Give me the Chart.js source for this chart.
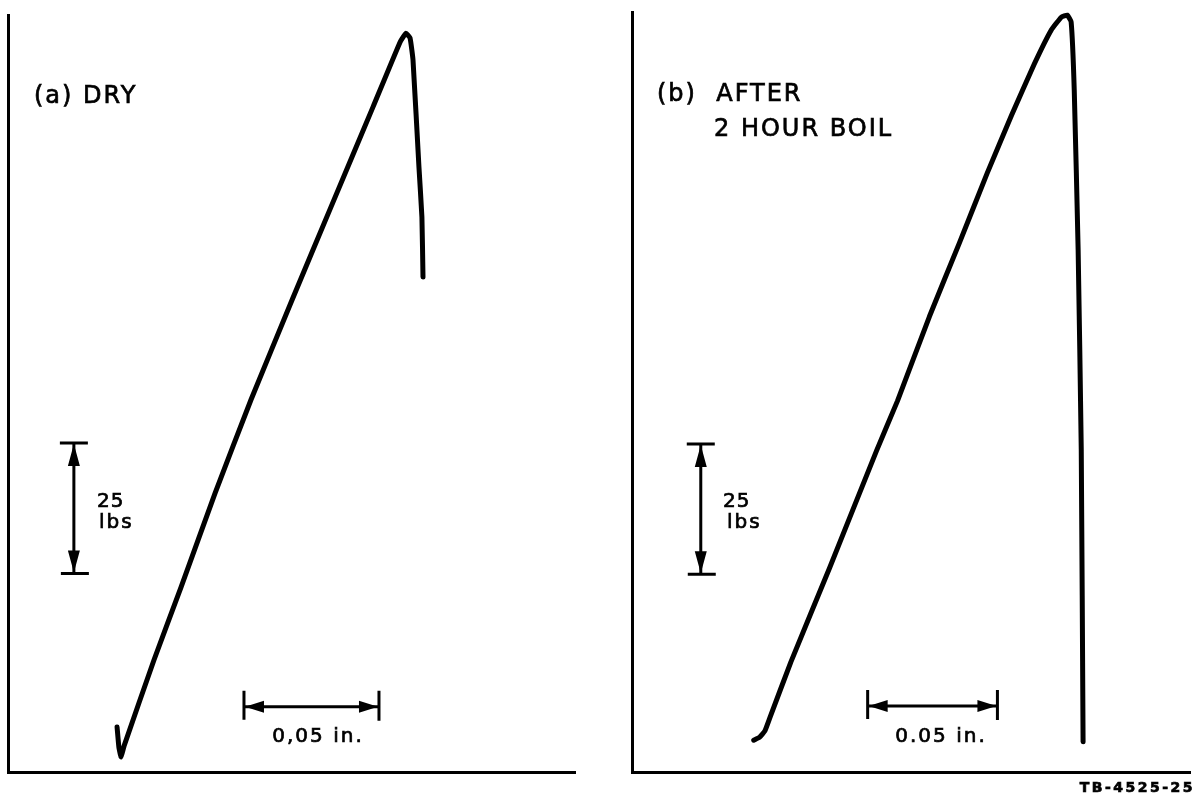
<!DOCTYPE html>
<html>
<head>
<meta charset="utf-8">
<script src="https://cdn.jsdelivr.net/npm/chart.js@4"></script>
<style>
  html, body { margin: 0; padding: 0; background: #fff; }
  #wrap { position: relative; width: 1200px; height: 801px; }
  canvas { position: absolute; top: 0; }
  #dry { left: 0; }
  #boil { left: 600px; }
</style>
</head>
<body>
<div id="wrap">
  <canvas id="dry" width="600" height="801"></canvas>
  <canvas id="boil" width="600" height="801"></canvas>
</div>
<script>
// load-deflection traces, x = deflection (in.), y = load (lbs)
const dryX  = [0.0404, 0.0411, 0.0419, 0.0430, 0.0541, 0.0641, 0.0767, 0.0900, 0.1052, 0.1196, 0.1352, 0.1452, 0.1474, 0.1489, 0.1500, 0.1522, 0.1533, 0.1537];
const dryY  = [8.6, 4.6, 2.9, 5.0, 21.5, 35.4, 53.4, 71.3, 90.4, 108.2, 127.4, 139.8, 141.5, 140.6, 136.4, 115.9, 106.3, 94.8];

const boilX = [0.0469, 0.0492, 0.0512, 0.0531, 0.0612, 0.0762, 0.0942, 0.1023, 0.1146, 0.1262, 0.1369, 0.1462, 0.1550, 0.1615, 0.1654, 0.1677, 0.1692, 0.1704, 0.1719, 0.1731, 0.1738];
const boilY = [6.1, 6.7, 7.9, 10.4, 21.1, 39.3, 61.7, 71.3, 87.5, 101.7, 115.1, 126.1, 136.0, 142.5, 145.0, 145.4, 144.1, 131.0, 100.3, 61.9, 5.8];

// scale bars
const loadBar = 25;     // lbs
const deflBar = 0.05;   // in.

const toPoints = (xs, ys) => xs.map((x, i) => ({ x: x, y: ys[i] }));

// draws the scale bars and the lettering
const scaleBars = {
  id: 'scaleBars',
  afterDatasetsDraw(chart, args, o) {
    const ctx = chart.ctx;
    const sx = chart.scales.x, sy = chart.scales.y;
    ctx.save();
    ctx.strokeStyle = '#000';
    ctx.fillStyle = '#000';
    ctx.lineWidth = 3;
    ctx.lineCap = 'butt';

    // vertical (load) bar
    const vx = sx.getPixelForValue(o.load.x);
    const vTop = sy.getPixelForValue(o.load.y + loadBar);
    const vBot = sy.getPixelForValue(o.load.y);
    ctx.beginPath();
    ctx.moveTo(vx, vTop); ctx.lineTo(vx, vBot);
    ctx.moveTo(vx - 14, vTop); ctx.lineTo(vx + 14, vTop);
    ctx.moveTo(vx - 13, vBot); ctx.lineTo(vx + 15, vBot);
    ctx.stroke();
    ctx.beginPath();
    ctx.moveTo(vx, vTop + 1); ctx.lineTo(vx - 6, vTop + 23); ctx.lineTo(vx + 6, vTop + 23); ctx.closePath();
    ctx.moveTo(vx, vBot - 1); ctx.lineTo(vx - 6, vBot - 23); ctx.lineTo(vx + 6, vBot - 23); ctx.closePath();
    ctx.fill();

    // horizontal (deflection) bar
    const hy = sy.getPixelForValue(o.defl.y);
    const hL = sx.getPixelForValue(o.defl.x);
    const hR = sx.getPixelForValue(o.defl.x + deflBar);
    ctx.beginPath();
    ctx.moveTo(hL, hy); ctx.lineTo(hR, hy);
    ctx.moveTo(hL, hy - 16); ctx.lineTo(hL, hy + 13);
    ctx.moveTo(hR, hy - 16); ctx.lineTo(hR, hy + 14);
    ctx.stroke();
    ctx.beginPath();
    ctx.moveTo(hL + 1, hy); ctx.lineTo(hL + 20, hy - 6); ctx.lineTo(hL + 20, hy + 6); ctx.closePath();
    ctx.moveTo(hR - 1, hy); ctx.lineTo(hR - 20, hy - 6); ctx.lineTo(hR - 20, hy + 6); ctx.closePath();
    ctx.fill();

    // lettering
    ctx.textBaseline = 'middle';
    ctx.lineWidth = 0.7;
    o.labels.forEach(l => {
      ctx.font = l.font;
      ctx.letterSpacing = l.spacing || '0px';
      ctx.textAlign = l.align || 'left';
      ctx.fillText(l.text, l.x, l.y);
      ctx.strokeText(l.text, l.x, l.y);
    });
    ctx.restore();
  }
};

function makePanel(id, points, xMax, yMax, padding, barOpts) {
  return new Chart(document.getElementById(id), {
    type: 'scatter',
    data: {
      datasets: [{
        data: points,
        showLine: true,
        borderColor: '#000',
        borderWidth: 5,
        pointRadius: 0,
        tension: 0.12,
        borderJoinStyle: 'round',
        borderCapStyle: 'round'
      }]
    },
    options: {
      responsive: false,
      animation: false,
      events: [],
      layout: { padding: padding },
      plugins: {
        legend: { display: false },
        tooltip: { enabled: false },
        scaleBars: barOpts
      },
      scales: {
        x: {
          type: 'linear', min: 0, max: xMax,
          grid: { display: false, drawTicks: false },
          ticks: { display: false },
          border: { display: true, color: '#000', width: 3 }
        },
        y: {
          type: 'linear', min: 0, max: yMax,
          grid: { display: false, drawTicks: false },
          ticks: { display: false },
          border: { display: true, color: '#000', width: 3 }
        }
      }
    },
    plugins: [scaleBars]
  });
}

const letter = '24px "DejaVu Sans"';
const small = '20px "DejaVu Sans"';

makePanel('dry', toPoints(dryX, dryY), 0.21, 145,
  { left: 8, top: 15, right: 25, bottom: 29 },
  {
    load: { x: 0.0244, y: 38 },
    defl: { x: 0.0874, y: 12.5 },
    labels: [
      { text: '(a) DRY', x: 34, y: 97, font: letter, spacing: '2px' },
      { text: '25', x: 97, y: 502, font: small, spacing: '1px' },
      { text: 'lbs', x: 99, y: 523, font: small, spacing: '2px' },
      { text: '0,05 in.', x: 318, y: 737, font: small, spacing: '2px', align: 'center' }
    ]
  });

makePanel('boil', toPoints(boilX, boilY), 0.215, 146,
  { left: 32, top: 12, right: 10, bottom: 29 },
  {
    load: { x: 0.0265, y: 38 },
    defl: { x: 0.0908, y: 12.7 },
    labels: [
      { text: '(b)  AFTER', x: 57, y: 95, font: letter, spacing: '2px' },
      { text: '2 HOUR BOIL', x: 114, y: 130, font: letter, spacing: '2px' },
      { text: '25', x: 123, y: 502, font: small, spacing: '1px' },
      { text: 'lbs', x: 127, y: 523, font: small, spacing: '2px' },
      { text: '0.05 in.', x: 341, y: 737, font: small, spacing: '2px', align: 'center' },
      { text: 'TB-4525-25', x: 595, y: 788, font: 'bold 14px "DejaVu Sans"', spacing: '2.5px', align: 'right' }
    ]
  });
</script>
</body>
</html>
